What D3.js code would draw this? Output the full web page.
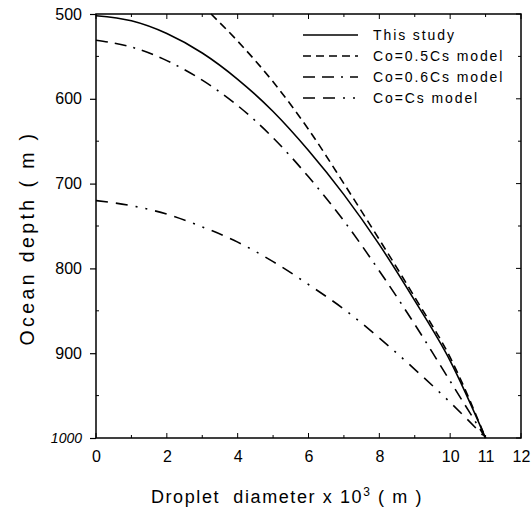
<!DOCTYPE html>
<html><head><meta charset="utf-8">
<script src="https://cdn.jsdelivr.net/npm/d3@7"></script>
<style>
body{margin:0;background:#fff;}
svg{display:block;font-family:"Liberation Sans",Arial,sans-serif;}
</style></head>
<body><svg id="c" width="531" height="520"></svg>
<script>
// Data (droplet diameter x10^3 m, ocean depth m)
const thisStudyD = [0,1,2,3,4,5,6,7,8,9,10,11];
const thisStudyZ = [502,508,523,546,577,615,661,713,772,838,909,1000];
const half5D = [3.25,4,5,6,7,8,9,10,11];
const half5Z = [500,532,580,636,700,766,834,905,1000];
const six6D = [0,1,2,3,4,5,6,7,8,9,10,11];
const six6Z = [531,539,555,578,608,646,692,744,803,866,933,1000];
const fullD = [0,1,2,3,4,5,6,7,8,9,10,11];
const fullZ = [720,726,736,751,769,792,819,848,882,919,958,1000];
const xTickVals = [0,2,4,6,8,10,11,12];
const yTickVals = [500,600,700,800,900,1000];
const legendLabels = ["This study","Co=0.5Cs model","Co=0.6Cs model","Co=Cs model"];

const svg = d3.select("#c");
const FF = "Liberation Sans, Arial, sans-serif";
const L=96, R=521, T=14, B=438;
const x = d3.scaleLinear().domain([0,12]).range([L,R]);
const y = d3.scaleLinear().domain([500,1000]).range([T,B]);

const series = [
  {d:thisStudyD, z:thisStudyZ, dash:null},
  {d:half5D, z:half5Z, dash:"8,5"},
  {d:six6D, z:six6Z, dash:"12,7,12,7,2,7"},
  {d:fullD, z:fullZ, dash:"12,8,12,8,2,8,2,8"}
];

const line = d3.line().x(p=>x(p[0])).y(p=>y(p[1])).curve(d3.curveMonotoneX);
const g = svg.append("g");
series.forEach(s=>{
  g.append("path").attr("d", line(s.d.map((v,i)=>[v,s.z[i]])))
   .attr("fill","none").attr("stroke","#000").attr("stroke-width",1.6)
   .attr("stroke-dasharray", s.dash);
});

// frame
svg.append("rect").attr("x",L).attr("y",T).attr("width",R-L).attr("height",B-T)
  .attr("fill","none").attr("stroke","#000").attr("stroke-width",1.5);

// bottom axis
const xAxis = d3.axisBottom(x).tickValues(xTickVals).tickSize(0).tickPadding(13).tickFormat(d3.format("d"));
const gx = svg.append("g").attr("transform",`translate(0,${B})`).call(xAxis);
gx.select(".domain").remove();
gx.selectAll("text").attr("font-size",16).attr("fill","#000").attr("font-family",FF);
d3.range(0,13).forEach(v=>{
  const len = v%2===0?5:3;
  svg.append("line").attr("x1",x(v)).attr("x2",x(v)).attr("y1",B).attr("y2",B-len).attr("stroke","#000").attr("stroke-width",1);
  svg.append("line").attr("x1",x(v)).attr("x2",x(v)).attr("y1",T).attr("y2",T+len).attr("stroke","#000").attr("stroke-width",1);
});

// left axis
const yAxis = d3.axisLeft(y).tickValues(yTickVals).tickSize(6).tickPadding(8).tickFormat(d3.format("d"));
const gy = svg.append("g").attr("transform",`translate(${L},0)`).call(yAxis);
gy.select(".domain").remove();
gy.selectAll("line").attr("stroke","#000").attr("stroke-width",1.2);
gy.selectAll("text").attr("font-size",16).attr("fill","#000").attr("font-family",FF);
gy.selectAll("text").filter(d=>d===1000).attr("font-style","italic").attr("font-size",14);
d3.range(500,1001,50).forEach(v=>{
  svg.append("line").attr("x1",R).attr("x2",R-(v%100===0?5:3)).attr("y1",y(v)).attr("y2",y(v)).attr("stroke","#000").attr("stroke-width",1);
  if(v%100!==0) svg.append("line").attr("x1",L).attr("x2",L+3).attr("y1",y(v)).attr("y2",y(v)).attr("stroke","#000").attr("stroke-width",1);
});

// legend
const lg = svg.append("g");
legendLabels.forEach((lab,i)=>{
  const yy = 35 + i*21;
  lg.append("line").attr("x1",303).attr("x2",358).attr("y1",yy).attr("y2",yy)
    .attr("stroke","#000").attr("stroke-width",1.6).attr("stroke-dasharray",series[i].dash);
  lg.append("text").attr("x",373).attr("y",yy+5).attr("font-size",14).attr("letter-spacing",1.9).text(lab);
});

// axis titles
svg.append("text").attr("x",287).attr("y",503).attr("text-anchor","middle")
  .attr("font-size",18).attr("letter-spacing",1.6)
  .html('Droplet&#160; diameter x 10<tspan dy="-7" font-size="12">3</tspan><tspan dy="7"> ( m )</tspan>');
svg.append("text").attr("transform","translate(34,238) rotate(-90)").attr("text-anchor","middle")
  .attr("font-size",19.5).attr("letter-spacing",3.4).text("Ocean depth ( m )");
</script></body></html>
